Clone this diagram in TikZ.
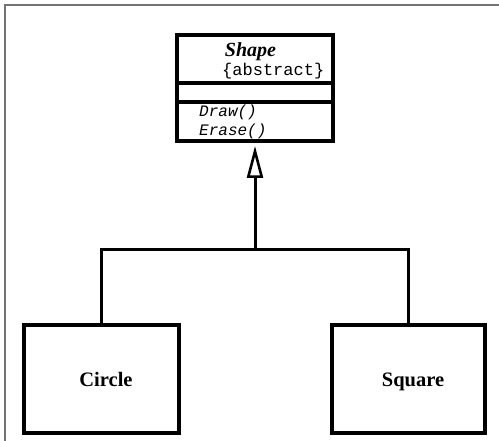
\documentclass[tikz,border=0pt]{standalone}
\usepackage{fontspec}
\setmainfont{Liberation Serif}
\setmonofont{Liberation Mono}
\usetikzlibrary{arrows.meta}
\begin{document}
\begin{tikzpicture}[x=1pt,y=-1pt,
  umlbox/.style={draw=black,line width=3.2pt,inner sep=0pt,outer sep=0pt},
  classname/.style={font=\fontsize{20}{22}\selectfont\bfseries\itshape,inner sep=0pt},
  monotext/.style={font=\fontsize{17}{19}\selectfont\ttfamily,inner sep=0pt},
  optext/.style={font=\fontsize{16}{18}\selectfont\ttfamily\itshape,inner sep=0pt},
  boxlabel/.style={font=\fontsize{20.5}{23}\selectfont\bfseries,inner sep=0pt},
  conn/.style={line width=3pt},
  frameline/.style={draw=black!55,line width=2pt}]
\useasboundingbox (0,0) rectangle (499,441);
\fill[white] (0,0) rectangle (499,441);
% frame
\coordinate (fa) at (5,441);
\coordinate (fb) at (5,5);
\coordinate (fc) at (499,5);
\draw[frameline] (fa) -- (fb) -- (fc);
% Shape class
\node[umlbox,minimum width=156pt,minimum height=48pt] (s1) at (255,59) {};
\node[umlbox,minimum width=156pt,minimum height=19pt,anchor=north] (s2) at (s1.south) {};
\node[umlbox,minimum width=156pt,minimum height=39pt,anchor=north] (s3) at (s2.south) {};
\node[classname,anchor=base] (tname) at (250.5,57) {Shape};
\node[monotext,anchor=base west] (tabs) at (222,76) {\{abstract\}};
\node[optext,anchor=base west] (tdraw) at (199,116.5) {Draw()};
\node[optext,anchor=base west] (terase) at (199,135.5) {Erase()};
% subclasses
\node[umlbox,minimum width=155pt,minimum height=108pt] (circ) at (101.5,379) {};
\node[umlbox,minimum width=153pt,minimum height=108pt] (squ) at (408.5,379) {};
\node[boxlabel,anchor=base] (tcirc) at (106,387) {Circle};
\node[boxlabel,anchor=base] (tsqu) at (413,387) {Square};
% connectors
\coordinate (j) at (255,250);
\draw[conn,-{Triangle[open,width=16pt,length=32pt,line width=2.6pt]},shorten >=5pt] (j) -- (s3.south);
\draw[conn] (circ.north) -- (circ.north |- j) -- (squ.north |- j) -- (squ.north);
\end{tikzpicture}
\end{document}
